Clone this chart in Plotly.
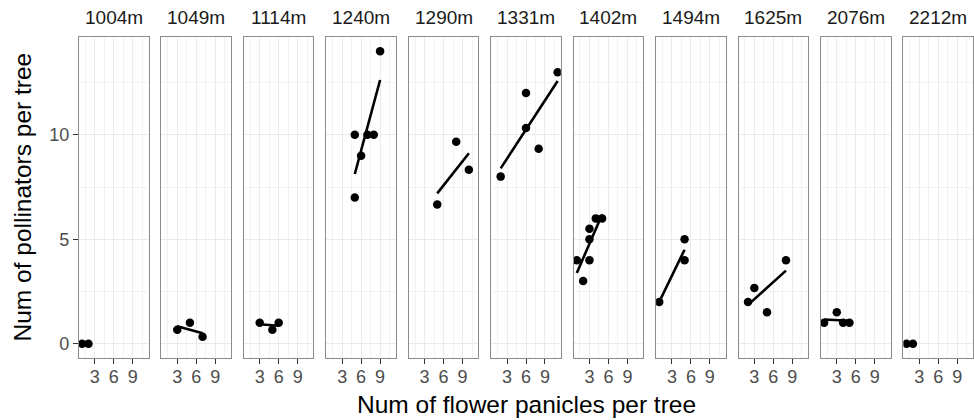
import numpy as np
import plotly.graph_objects as go

# ---- data ----
sites = ["1004m", "1049m", "1114m", "1240m", "1290m", "1331m",
         "1402m", "1494m", "1625m", "2076m", "2212m"]

x_1004 = [1, 2];                    y_1004 = [0, 0]
x_1049 = [3, 5, 7];                 y_1049 = [0.67, 1, 0.33]
x_1114 = [3, 5, 6];                 y_1114 = [1, 0.67, 1]
x_1240 = [5, 5, 6, 7, 8, 9];        y_1240 = [10, 7, 9, 10, 10, 14]
x_1290 = [5, 8, 10];                y_1290 = [6.67, 9.67, 8.33]
x_1331 = [2, 6, 6, 8, 11];          y_1331 = [8, 12, 10.33, 9.33, 13]
x_1402 = [1, 2, 3, 3, 3, 4, 5];     y_1402 = [4, 3, 5.5, 5, 4, 6, 6]
x_1494 = [1, 5, 5];                 y_1494 = [2, 5, 4]
x_1625 = [2, 3, 5, 8];              y_1625 = [2, 2.67, 1.5, 4]
x_2076 = [1, 3, 4, 5];              y_2076 = [1, 1.5, 1, 1]
x_2212 = [1, 2];                    y_2212 = [0, 0]

panicles = [x_1004, x_1049, x_1114, x_1240, x_1290, x_1331,
            x_1402, x_1494, x_1625, x_2076, x_2212]
pollinators = [y_1004, y_1049, y_1114, y_1240, y_1290, y_1331,
               y_1402, y_1494, y_1625, y_2076, y_2212]

x_ticks = [3, 6, 9]
x_minor = [1.5, 4.5, 7.5, 10.5]
y_ticks = [0, 5, 10]
y_minor = [2.5, 7.5, 12.5]
x_range = [0.5, 11.5]
y_range = [-0.7, 14.7]

# ---- layout geometry ----
W, H = 974, 420
left_px, right_px = 79, 973
top_px, bot_px = 36.7, 358.3
n = len(sites)
pw = 69.6
gap = (right_px - left_px - n * pw) / (n - 1)

FONT = "Liberation Sans, Arial, sans-serif"
GRID = "#EBEBEB"
BORDER = "#8C8C8C"

fig = go.Figure()
annotations = []
layout_axes = {}

for i, (site, xs, ys) in enumerate(zip(sites, panicles, pollinators)):
    k = "" if i == 0 else str(i + 1)
    xa, ya = "x" + k, "y" + k
    x0 = left_px + i * (pw + gap)
    x1 = x0 + pw
    dom_x = [x0 / W, x1 / W]
    dom_y = [1 - bot_px / H, 1 - top_px / H]

    # regression line (linear fit of the site's points)
    xs_a = np.array(xs, dtype=float)
    ys_a = np.array(ys, dtype=float)
    if np.ptp(xs_a) > 0:
        slope, icpt = np.polyfit(xs_a, ys_a, 1)
        lx = np.array([xs_a.min(), xs_a.max()])
        fig.add_trace(go.Scatter(x=lx, y=slope * lx + icpt, mode="lines",
                                 line=dict(color="black", width=2.6),
                                 xaxis=xa, yaxis=ya, showlegend=False,
                                 hoverinfo="skip"))
    fig.add_trace(go.Scatter(x=xs, y=ys, mode="markers",
                             marker=dict(color="black", size=8.5),
                             xaxis=xa, yaxis=ya, showlegend=False))

    layout_axes["xaxis" + k] = dict(
        domain=dom_x, range=x_range, anchor=ya,
        tickvals=x_ticks, ticktext=[str(t) for t in x_ticks],
        ticks="outside", ticklen=5, tickwidth=1.1, tickcolor="#333333",
        ticklabelstandoff=-3,
        tickfont=dict(family=FONT, size=18, color="#4D4D4D"),
        showgrid=True, gridcolor=GRID, gridwidth=1.1,
        minor=dict(tickvals=x_minor, showgrid=True, gridcolor="#F2F2F2",
                   gridwidth=0.8, ticks=""),
        showline=True, linecolor=BORDER, linewidth=1.1, mirror=True,
        zeroline=False, fixedrange=True,
    )
    layout_axes["yaxis" + k] = dict(
        domain=dom_y, range=y_range, anchor=xa,
        tickvals=y_ticks, ticktext=[str(t) for t in y_ticks],
        ticks="outside" if i == 0 else "", ticklen=5, tickwidth=1.1,
        tickcolor="#333333", showticklabels=(i == 0),
        tickfont=dict(family=FONT, size=18, color="#4D4D4D"),
        showgrid=True, gridcolor=GRID, gridwidth=1.1,
        minor=dict(tickvals=y_minor, showgrid=True, gridcolor="#F2F2F2",
                   gridwidth=0.8, ticks=""),
        showline=True, linecolor=BORDER, linewidth=1.1, mirror=True,
        zeroline=False, fixedrange=True,
    )
    annotations.append(dict(
        text=site, x=(x0 + x1) / 2 / W, y=1 - 18 / H,
        xref="paper", yref="paper", xanchor="center", yanchor="middle",
        showarrow=False, font=dict(family=FONT, size=19, color="#1A1A1A")))

annotations.append(dict(
    text="Num of flower panicles per tree",
    x=(left_px + right_px) / 2 / W, y=1 - 404 / H,
    xref="paper", yref="paper", xanchor="center", yanchor="middle",
    showarrow=False, font=dict(family=FONT, size=24.5, color="black")))
annotations.append(dict(
    text="Num of pollinators per tree",
    x=22 / W, y=1 - (top_px + bot_px) / 2 / H,
    xref="paper", yref="paper", xanchor="center", yanchor="middle",
    textangle=-90,
    showarrow=False, font=dict(family=FONT, size=24.5, color="black")))

fig.update_layout(
    width=W, height=H,
    margin=dict(l=0, r=0, t=0, b=0),
    paper_bgcolor="white", plot_bgcolor="white",
    showlegend=False,
    annotations=annotations,
    **layout_axes,
)

fig.write_html("out.html")
